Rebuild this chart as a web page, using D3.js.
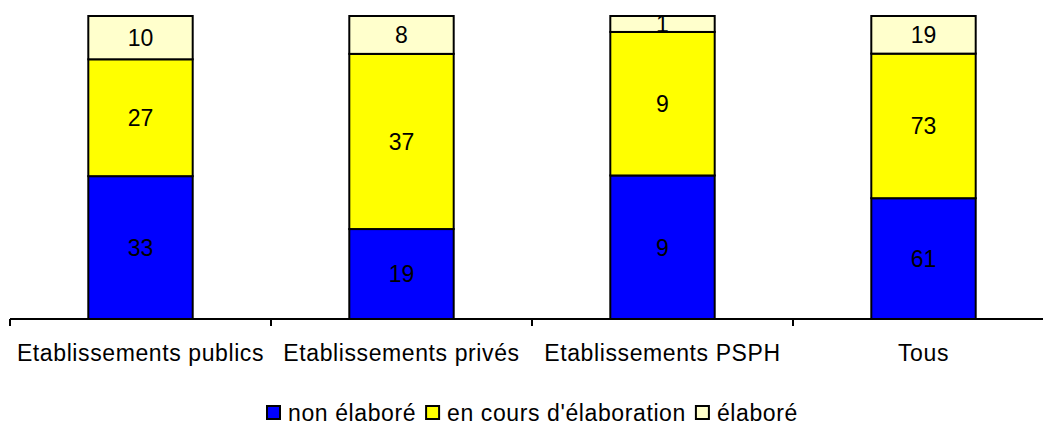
<!DOCTYPE html>
<html>
<head>
<meta charset="utf-8">
<script src="https://cdn.jsdelivr.net/npm/d3@7"></script>
<style>
  body { margin: 0; background: #fff; }
  text { font-family: "Liberation Sans", Arial, sans-serif; fill: #000; }
</style>
</head>
<body>
<div id="chart"></div>
<script>
// categories and series values (counts, drawn as 100% stacks)
var categories = ["Etablissements publics", "Etablissements privés", "Etablissements PSPH", "Tous"];
var nonElabore = [33, 19, 9, 61];
var enCours = [27, 37, 9, 73];
var elabore = [10, 8, 1, 19];
var seriesNames = ["non élaboré", "en cours d'élaboration", "élaboré"];
var colors = ["#0000ff", "#ffff00", "#ffffcc"];

var width = 1043, height = 425;
var margin = {top: 16, left: 10, bottom: 106};

var svg = d3.select("#chart").append("svg")
    .attr("width", width)
    .attr("height", height);

// build rows
var data = categories.map(function(c, i) {
  return {cat: c, v: [nonElabore[i], enCours[i], elabore[i]]};
});

var x = d3.scaleBand()
    .domain(categories)
    .range([margin.left, margin.left + 261 * 4])
    .paddingInner(0.6)
    .paddingOuter(0.3);

var y = d3.scaleLinear()
    .domain([0, 1])
    .range([height - margin.bottom, margin.top]);

data.forEach(function(d) {
  var total = d3.sum(d.v);
  var acc = 0;
  d.v.forEach(function(val, k) {
    var y0 = acc / total, y1 = (acc + val) / total;
    acc += val;
    svg.append("rect")
        .attr("x", x(d.cat))
        .attr("y", y(y1))
        .attr("width", x.bandwidth())
        .attr("height", y(y0) - y(y1))
        .attr("fill", colors[k])
        .attr("stroke", "#000")
        .attr("stroke-width", 2);
  });
});

// value labels on top of the boxes
data.forEach(function(d) {
  var total = d3.sum(d.v);
  var acc = 0;
  d.v.forEach(function(val) {
    var y0 = acc / total, y1 = (acc + val) / total;
    acc += val;
    svg.append("text")
        .attr("x", x(d.cat) + x.bandwidth() / 2)
        .attr("y", (y(y0) + y(y1)) / 2)
        .attr("dy", "0.36em")
        .attr("text-anchor", "middle")
        .attr("font-size", 23)
        .text(val);
  });
});

// x axis with ticks at band edges
var axisY = y(0);
var xAxis = svg.append("g");
xAxis.append("line")
    .attr("x1", margin.left).attr("x2", width)
    .attr("y1", axisY).attr("y2", axisY)
    .attr("stroke", "#000").attr("stroke-width", 2);
d3.range(categories.length + 1).forEach(function(i) {
  var xt = margin.left + x.step() * i;
  xAxis.append("line")
      .attr("x1", xt).attr("x2", xt)
      .attr("y1", axisY).attr("y2", axisY + 7)
      .attr("stroke", "#000").attr("stroke-width", 2);
});
categories.forEach(function(c) {
  xAxis.append("text")
      .attr("x", x(c) + x.bandwidth() / 2)
      .attr("y", 361)
      .attr("text-anchor", "middle")
      .attr("font-size", 23)
      .attr("letter-spacing", 0.6)
      .text(c);
});

// legend
var legend = svg.append("g").attr("transform", "translate(267,413)");
var lx = 0;
seriesNames.forEach(function(name, k) {
  legend.append("rect")
      .attr("x", lx).attr("y", -7)
      .attr("width", 13).attr("height", 13)
      .attr("fill", colors[k])
      .attr("stroke", "#000").attr("stroke-width", 2);
  var t = legend.append("text")
      .attr("x", lx + 21).attr("y", 0)
      .attr("dy", "0.36em")
      .attr("font-size", 23)
      .attr("letter-spacing", 0.6)
      .text(name);
  lx += 21 + t.node().getComputedTextLength() + 10;
});
</script>
</body>
</html>
